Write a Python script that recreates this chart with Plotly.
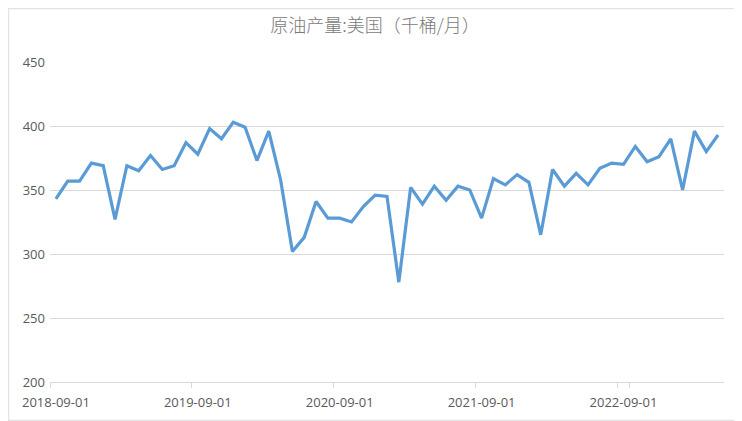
import pandas as pd
import plotly.graph_objects as go

# monthly US crude output, thousand barrels / month
months = pd.date_range("2018-09-01", periods=57, freq="MS").strftime("%Y-%m-%d").tolist()
output_kbbl = [
    343, 357, 357, 371, 369, 327, 369, 365, 377, 366,
    369, 387, 378, 398, 390, 403, 399, 373, 396, 358,
    302, 313, 341, 328, 328, 325, 337, 346, 345, 278,
    352, 339, 353, 342, 353, 350, 328, 359, 354, 362,
    356, 315, 366, 353, 363, 354, 367, 371, 370, 384,
    372, 376, 390, 350, 396, 380, 393,
]
tick_labels = ["2018-09-01", "2019-09-01", "2020-09-01", "2021-09-01", "2022-09-01"]
y_ticks = [200, 250, 300, 350, 400, 450]

fig = go.Figure()
fig.add_trace(go.Scatter(
    x=months,
    y=output_kbbl,
    mode="lines",
    line=dict(color="#5B9BD5", width=3.2),
    hoverinfo="x+y",
))

# page body adds an 8px margin, so the figure is sized 8px smaller
grey_txt = "#595959"
fig.update_layout(
    width=734,
    height=413,
    margin=dict(l=42, r=18, t=54, b=39, autoexpand=False),
    paper_bgcolor="white",
    plot_bgcolor="white",
    showlegend=False,
    font=dict(family="Noto Sans CJK SC, Open Sans, sans-serif", color=grey_txt, size=13),
    title=dict(
        text="原油产量:美国（千桶/月）",
        x=0.5,
        xanchor="center",
        y=1 - 17.5 / 413,
        yanchor="middle",
        font=dict(family="Noto Sans CJK SC", size=18, color="#7a7a7a", weight=300),
    ),
    shapes=[dict(
        type="rect", xref="paper", yref="paper",
        x0=-41.5 / 674, x1=1 + 17.5 / 674, y0=-38.5 / 320, y1=1 + 53.5 / 320,
        line=dict(color="#e3e3e3", width=1.5),
    )],
)

fig.update_xaxes(
    type="category",
    range=[-0.5, len(months) - 0.5],
    tickmode="array",
    tickvals=tick_labels,
    ticktext=tick_labels,
    tickson="boundaries",
    tickangle=0,
    automargin=False,
    ticks="outside",
    ticklen=5,
    tickcolor="#d9d9d9",
    ticklabelstandoff=8,
    showgrid=False,
    showline=True,
    linecolor="#d9d9d9",
    linewidth=1,
    tickfont=dict(family="Open Sans, sans-serif", size=13, color=grey_txt),
    fixedrange=True,
)
fig.update_yaxes(
    range=[200, 450],
    tickvals=y_ticks,
    automargin=False,
    showgrid=True,
    gridcolor="#d9d9d9",
    gridwidth=1,
    zeroline=False,
    showline=False,
    ticks="",
    ticklabelstandoff=4,
    tickfont=dict(family="Open Sans, sans-serif", size=13, color=grey_txt),
    fixedrange=True,
)

fig.write_html("out.html")
